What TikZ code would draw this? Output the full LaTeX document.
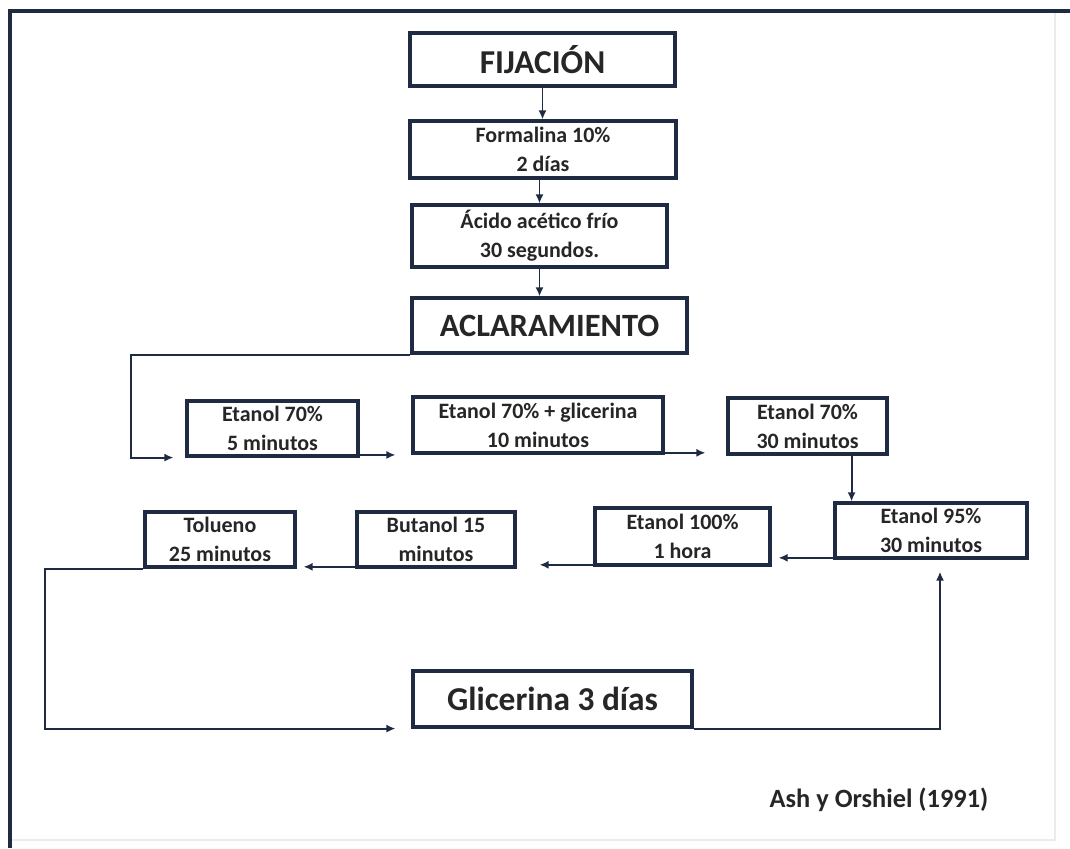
\documentclass[tikz,border=0pt]{standalone}
\usepackage{fontspec}
\setmainfont{Carlito}
\usetikzlibrary{arrows.meta}
\definecolor{marco}{HTML}{1F2B42}
\definecolor{letra}{HTML}{262626}
\begin{document}
\begin{tikzpicture}[x=0.02cm,y=0.02cm]
    \tikzstyle{caja}=[draw=marco, line width=1.8pt, fill=white, text=letra, align=center, inner sep=0pt, font=\bfseries\fontsize{12.5}{16.5}\selectfont]
    \tikzstyle{flecha}=[draw=marco, line width=1.1pt, -{Latex[length=0.18cm,width=0.16cm]}]
    \useasboundingbox (0,0) rectangle (1070,-848);
    \draw [black!8, line width=1pt] (1055,-11) -- (1055,-840) -- (10,-840);
    \draw [marco, line width=2.2pt] (10,-848) -- (10,-11) -- (1070,-11);
    \node [caja, minimum width=5.3cm, minimum height=1.06cm, font=\bfseries\fontsize{19}{20}\selectfont] (fij) at (542.5,-59.5) {FIJACIÓN};
    \node [caja, minimum width=5.32cm, minimum height=1.14cm] (form) at (543,-149.5) {Formalina 10\%\\2 días};
    \node [caja, minimum width=5.1cm, minimum height=1.24cm] (acido) at (539.5,-236) {Ácido acético frío\\30 segundos.};
    \node [caja, minimum width=5.5cm, minimum height=1.1cm, font=\bfseries\fontsize{18.5}{20}\selectfont] (acla) at (549.5,-325.5) {ACLARAMIENTO};
    \node [caja, minimum width=3.42cm, minimum height=1.1cm] (e1) at (272.5,-428.5) {Etanol 70\%\\5 minutos};
    \node [caja, minimum width=5cm, minimum height=1.12cm] (e2) at (538,-425) {Etanol 70\% + glicerina\\10 minutos};
    \node [caja, minimum width=3.18cm, minimum height=1.12cm] (e3) at (807.5,-426) {Etanol 70\%\\30 minutos};
    \node [caja, minimum width=3.84cm, minimum height=1.1cm] (e4) at (931,-530.5) {Etanol 95\%\\30 minutos};
    \node [caja, minimum width=3.5cm, minimum height=1.14cm] (e5) at (682.5,-536.5) {Etanol 100\%\\1 hora};
    \node [caja, minimum width=3.16cm, minimum height=1.1cm] (but) at (436,-539.5) {Butanol 15\\minutos};
    \node [caja, minimum width=3cm, minimum height=1.1cm] (tol) at (220,-539.5) {Tolueno\\25 minutos};
    \node [caja, minimum width=5.58cm, minimum height=1.12cm, font=\bfseries\fontsize{19}{20}\selectfont] (gli) at (552.5,-699) {Glicerina 3 días};
    \node [text=letra, font=\bfseries\fontsize{15}{16}\selectfont] (ref) at (879,-800) {Ash y Orshiel (1991)};
    \draw [flecha] (fij) -- (fij |- form.north);
    \draw [flecha] (form.south -| acido.north) -- (acido.north);
    \draw [flecha] (acido.south) -- (acido.south |- acla.north);
    \draw [flecha, shorten >=0.24cm] (acla.south west) -- ++(-279,0) |- (e1.south west);
    \draw [flecha, shorten >=0.32cm] ([yshift=1.5pt]e1.south east) -- ([yshift=1.5pt]e1.south east -| e2.west);
    \draw [flecha, shorten >=0.42cm] ([yshift=1pt]e2.south east) -- ([yshift=1pt]e2.south east -| e3.west);
    \coordinate (baja) at ([xshift=-0.74cm]e3.south east);
    \draw [flecha] (baja) -- (baja |- e4.north);
    \draw [flecha, shorten >=0.14cm] ([yshift=1pt]e4.south west) -- ([yshift=1pt]e4.south west -| e5.east);
    \draw [flecha, shorten >=0.46cm] ([yshift=1pt]e5.south west) -- ([yshift=1pt]e5.south west -| but.east);
    \draw [flecha, shorten >=0.14cm] ([yshift=1pt]but.south west) -- ([yshift=1pt]but.south west -| tol.east);
    \draw [flecha, shorten >=0.32cm] (tol.south west) -- ++(-98,0) |- (gli.south west);
    \draw [flecha, shorten >=0.24cm] (gli.south east) -| ([xshift=0.18cm]e4.south);
\end{tikzpicture}
\end{document}
